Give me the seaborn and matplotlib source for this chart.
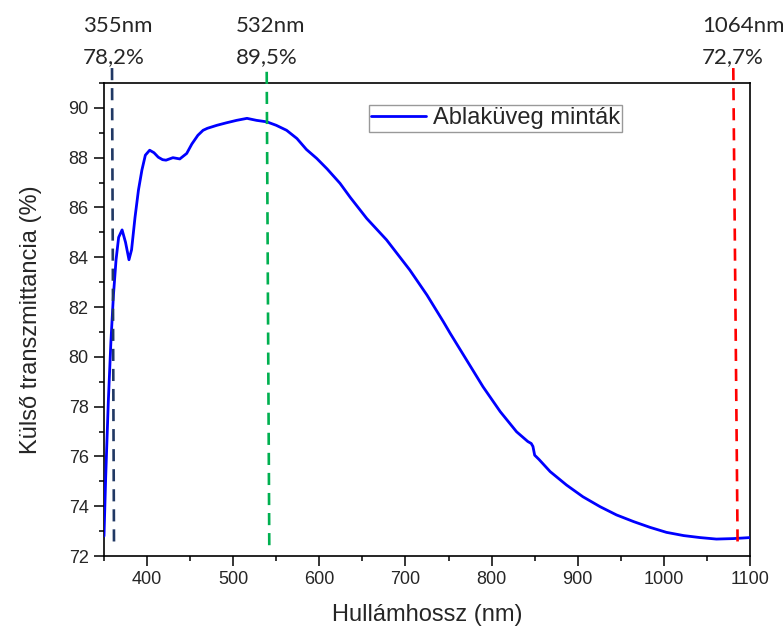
import matplotlib
matplotlib.use("Agg")
import matplotlib.pyplot as plt
from matplotlib.ticker import MultipleLocator
import seaborn as sns
import pandas as pd

# Spectrum
wavelength = [350, 352, 355, 358, 361, 364, 367, 371, 375, 379, 382, 386, 390, 394,
              398, 403, 408, 413, 418, 422, 430, 438, 446, 452, 459, 465, 470, 481,
              492, 504, 516, 527, 539, 550, 562, 574, 585, 597, 609, 624, 636, 655,
              678, 705, 725, 744, 752, 771, 790, 810, 829, 838, 842, 846, 848, 850,
              855, 868, 887, 906, 926, 945, 965, 984, 1003, 1023, 1042, 1061, 1081, 1100]
transmittance = [72.8, 75.2, 78.2, 80.6, 82.5, 83.9, 84.8, 85.1, 84.6, 83.9, 84.3, 85.6,
                 86.7, 87.5, 88.1, 88.3, 88.2, 88.02, 87.92, 87.9, 88.0, 87.95, 88.17,
                 88.55, 88.9, 89.1, 89.18, 89.3, 89.4, 89.5, 89.58, 89.5, 89.44, 89.3,
                 89.1, 88.77, 88.33, 87.97, 87.55, 86.97, 86.4, 85.56, 84.7, 83.49,
                 82.48, 81.41, 80.94, 79.87, 78.8, 77.8, 76.99, 76.72, 76.6, 76.52, 76.4,
                 76.05, 75.88, 75.39, 74.85, 74.38, 73.98, 73.65, 73.38, 73.15, 72.95,
                 72.82, 72.74, 72.68, 72.7, 72.74]

# laser marker lines (drawn slightly slanted like in the original)
marker_names = ["355nm", "532nm", "1064nm"]
marker_values = ["78,2%", "89,5%", "72,7%"]
marker_x_top = [359.3, 538.9, 1080.6]
marker_x_bottom = [361.6, 541.9, 1085.6]
marker_y_top = [91.6, 91.45, 91.6]
marker_y_bottom = [72.44, 72.32, 72.48]
marker_colors = ["#203864", "#00B050", "#FF0000"]
label_left_px = [82.7, 236, 702]

df = pd.DataFrame({"Hullámhossz (nm)": wavelength,
                   "Külső transzmittancia (%)": transmittance})

sns.set_style("ticks")
plt.rcParams["font.family"] = ["Liberation Sans", "DejaVu Sans"]

fig = plt.figure(figsize=(7.83, 6.28), dpi=100)
ax = fig.add_axes([104 / 783, 1 - 556 / 628, 646 / 783, 473 / 628])

sns.lineplot(data=df, x="Hullámhossz (nm)", y="Külső transzmittancia (%)",
             color="#0000FF", linewidth=2.0, label="Ablaküveg minták", ax=ax,
             zorder=3)

for i in range(len(marker_names)):
    ax.plot([marker_x_top[i], marker_x_bottom[i]], [marker_y_top[i], marker_y_bottom[i]],
            color=marker_colors[i], linewidth=1.9, dashes=(4.6, 3.0), clip_on=False,
            zorder=4)
    fig.text(label_left_px[i] / 783, 1 - 32 / 628, marker_names[i], fontsize=16,
             family="Lato", ha="left", va="baseline")
    fig.text(label_left_px[i] / 783, 1 - 63 / 628, marker_values[i], fontsize=16,
             family="Lato", ha="left", va="baseline")

ax.set_xlim(350, 1100)
ax.set_ylim(72, 91)
ax.xaxis.set_major_locator(MultipleLocator(100))
ax.xaxis.set_minor_locator(MultipleLocator(50))
ax.yaxis.set_major_locator(MultipleLocator(2))
ax.yaxis.set_minor_locator(MultipleLocator(1))
ax.tick_params(which="major", length=7, width=1.1, labelsize=13, pad=4, color="black")
ax.tick_params(which="minor", length=3.6, width=1.1, color="black")
for s in ax.spines.values():
    s.set_linewidth(1.2)
    s.set_color("black")

ax.set_xlabel("Hullámhossz (nm)", fontsize=17, labelpad=11)
ax.set_ylabel("Külső transzmittancia (%)", fontsize=17, labelpad=19)

leg = ax.legend(loc="upper left", bbox_to_anchor=(0.410, 0.9535), borderaxespad=0,
                fontsize=17, frameon=True, fancybox=False, handlelength=2.3,
                handletextpad=0.3, borderpad=0.1)
leg.get_frame().set_edgecolor("#808080")
leg.get_frame().set_linewidth(1.0)

fig.savefig("out.png", dpi=100)
